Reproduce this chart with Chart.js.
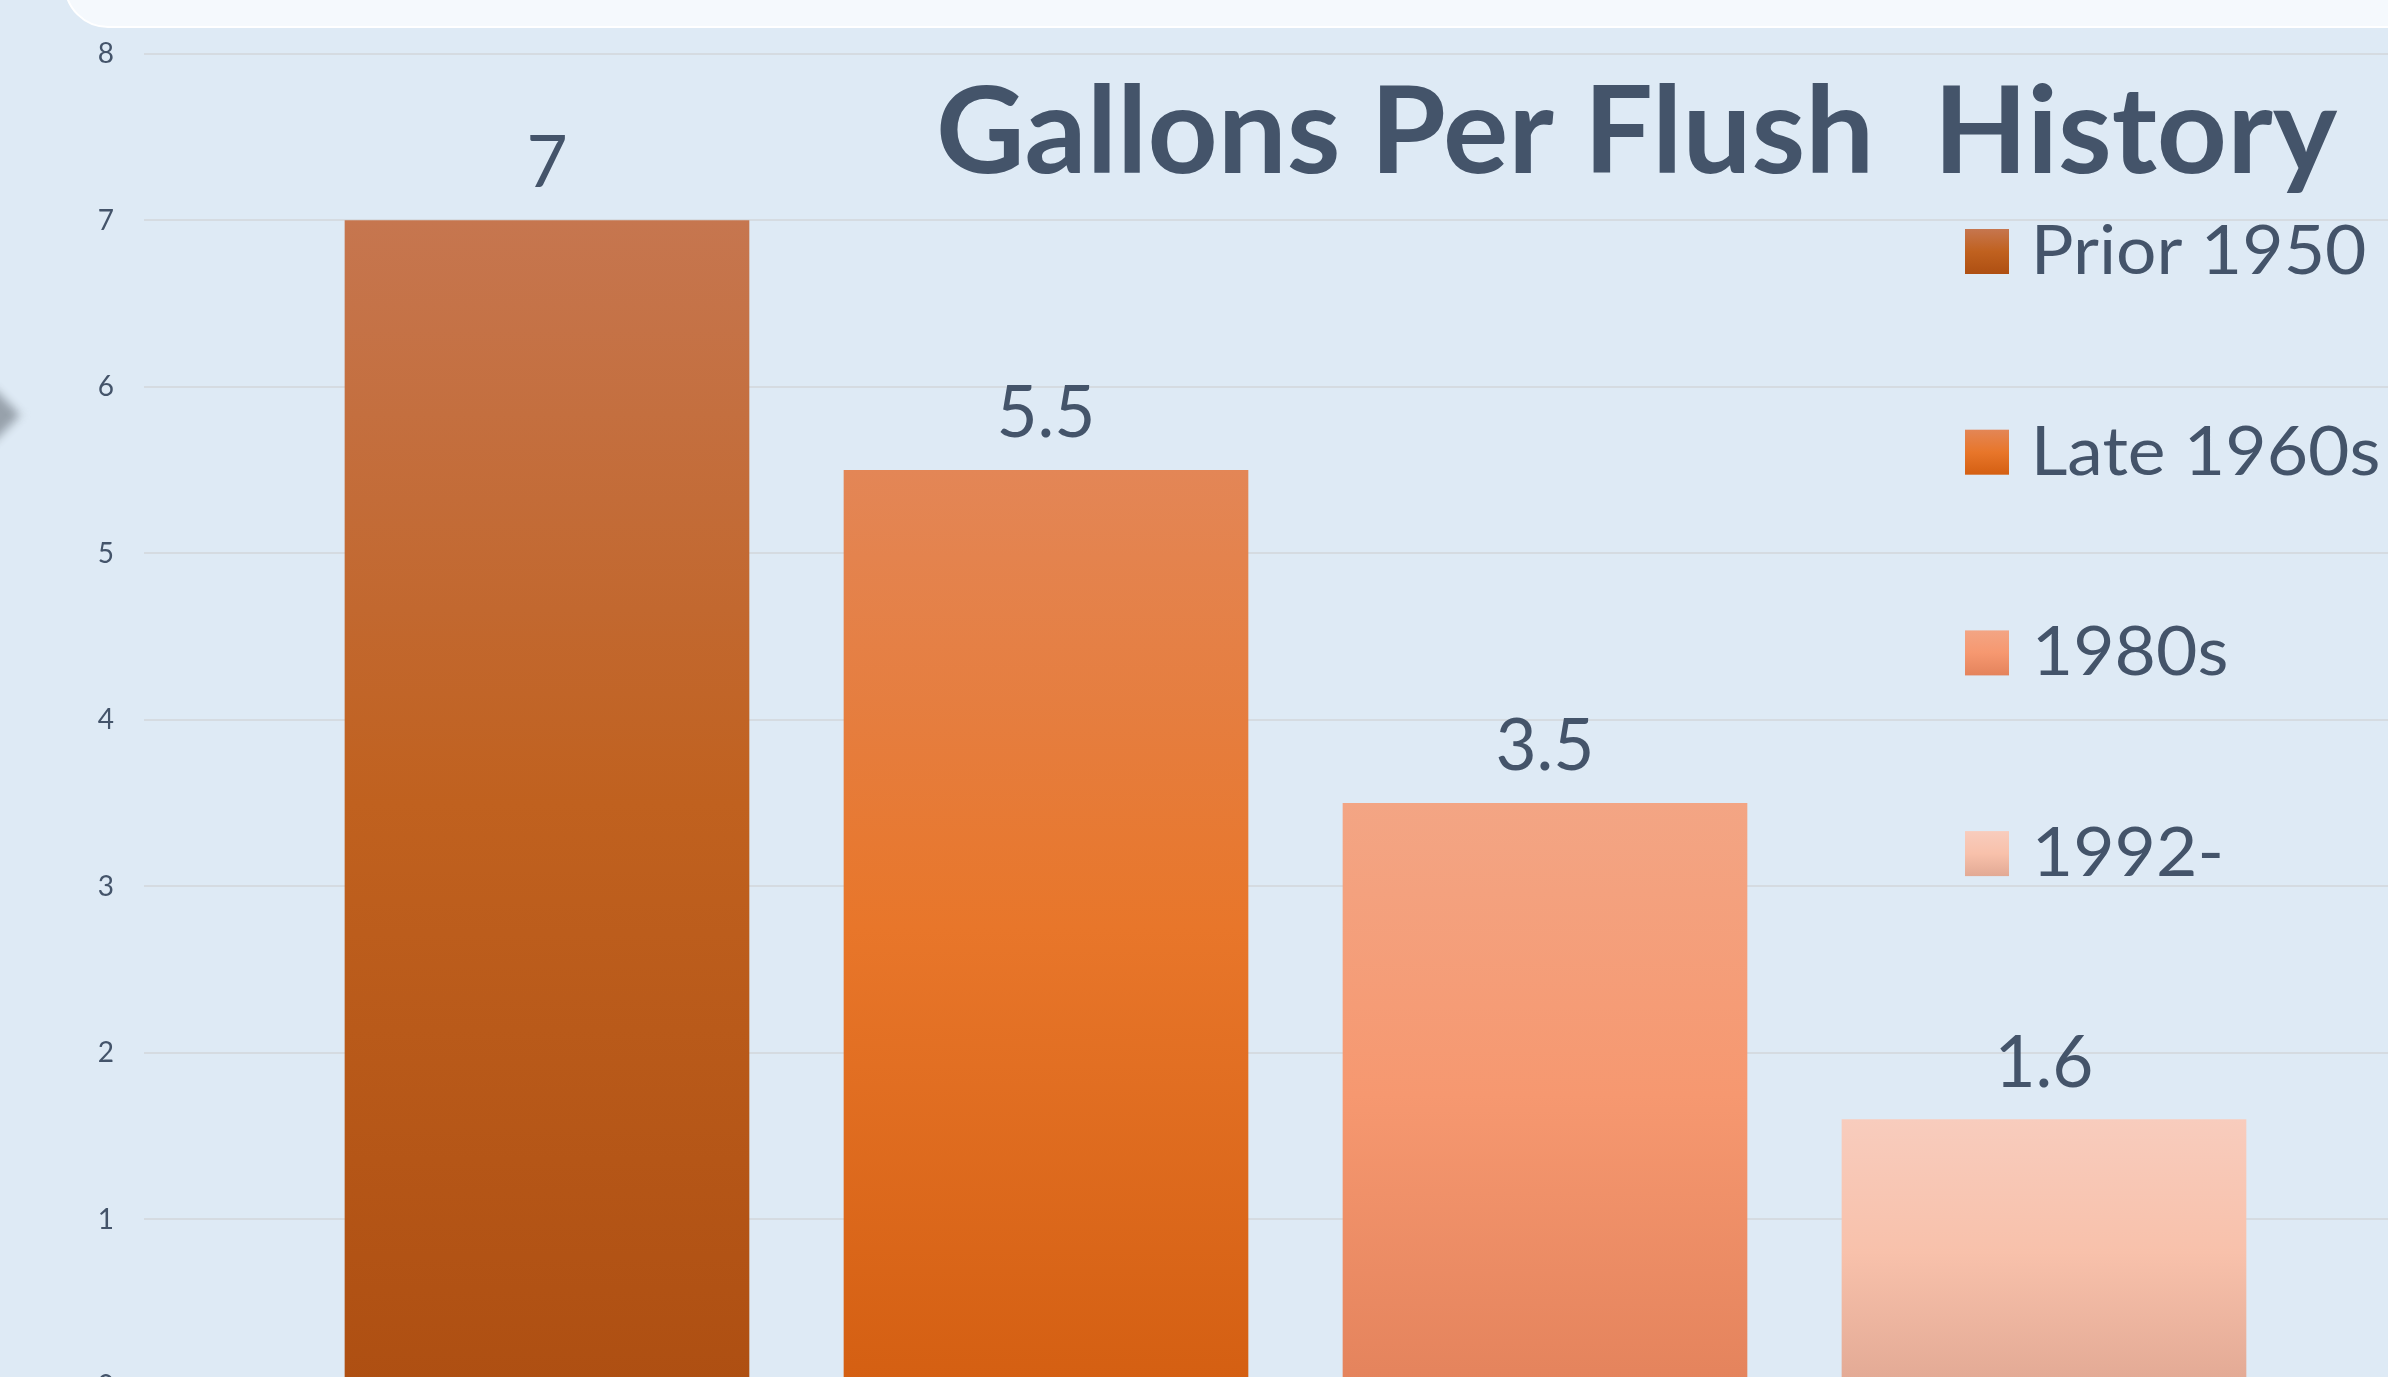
<!DOCTYPE html>
<html>
<head>
<meta charset="utf-8">
<script src="https://cdn.jsdelivr.net/npm/chart.js@4.4.1/dist/chart.umd.min.js"></script>
<style>
  html, body { margin: 0; padding: 0; width: 2388px; height: 1377px; overflow: hidden; background: #DEEAF5; }
  #wrap { position: relative; width: 2388px; height: 1377px; overflow: hidden; }
  #c { position: absolute; left: 0; top: 0; }
  #topbox { position: absolute; left: 64px; top: -60px; width: 2420px; height: 88px; background: #F5F9FD;
            border: 2px solid #FFFFFF; border-radius: 60px; box-sizing: border-box; }
  #arrow { position: absolute; left: -28px; top: 395px; width: 40px; height: 40px; background: #97A1AB;
           transform: rotate(45deg); filter: blur(5px); }
</style>
</head>
<body>
<div id="wrap">
  <canvas id="c" width="2388" height="1377"></canvas>
  <div id="topbox"></div>
  <div id="arrow"></div>
</div>
<script>
// ---------- data ----------
const chartTitle = 'Gallons Per Flush  History';
const categories = ['Prior 1950', 'Late 1960s', '1980s', '1992-'];
const gallonsPerFlush = [7, 5.5, 3.5, 1.6];
const yTickValues = [0, 1, 2, 3, 4, 5, 6, 7, 8];

// ---------- styles ----------
const TEXT = '#44546A';
const palettes = [
  ['#C6764F', '#C0611F', '#AE4F12'],
  ['#E38656', '#E8762A', '#D45F12'],
  ['#F3A584', '#F69870', '#E4835C'],
  ['#F8CCBD', '#F8C1AB', '#E2A994']
];

function barGradient(i) {
  return function (ctx) {
    const chart = ctx.chart;
    const area = chart.chartArea;
    if (!area || !chart.scales.y) return palettes[i][1];
    const ys = chart.scales.y;
    const top = ys.getPixelForValue(gallonsPerFlush[i]);
    const bottom = ys.getPixelForValue(0);
    const g = chart.ctx.createLinearGradient(0, top, 0, bottom);
    g.addColorStop(0, palettes[i][0]);
    g.addColorStop(0.5, palettes[i][1]);
    g.addColorStop(1, palettes[i][2]);
    return g;
  };
}

const overlayPlugin = {
  id: 'overlay',
  afterDatasetsDraw(chart) {
    const ctx = chart.ctx;
    ctx.save();
    // value labels above bars
    ctx.fillStyle = TEXT;
    ctx.font = '71px Lato';
    ctx.textAlign = 'center';
    ctx.textBaseline = 'alphabetic';
    chart.data.datasets.forEach((ds, i) => {
      const meta = chart.getDatasetMeta(i);
      meta.data.forEach((bar) => {
        ctx.fillText(String(gallonsPerFlush[i]), bar.x, bar.y - 33);
      });
    });
    ctx.restore();
  },
  afterDraw(chart) {
    const ctx = chart.ctx;
    ctx.save();
    // title
    ctx.fillStyle = TEXT;
    ctx.font = 'bold 120px Lato';
    ctx.textAlign = 'left';
    ctx.textBaseline = 'alphabetic';
    const m = ctx.measureText(chartTitle);
    const inkW = m.actualBoundingBoxLeft + m.actualBoundingBoxRight;
    const sx = 1398 / inkW;
    ctx.translate(940 + m.actualBoundingBoxLeft * sx, 173);
    ctx.scale(sx, 1);
    ctx.fillText(chartTitle, 0, 0);
    ctx.restore();

    // legend
    ctx.save();
    ctx.font = '68px Lato';
    ctx.textAlign = 'left';
    ctx.textBaseline = 'alphabetic';
    const lm = ctx.measureText(categories[0]);
    const lsx = 328 / (lm.actualBoundingBoxLeft + lm.actualBoundingBoxRight);
    categories.forEach((name, i) => {
      const top = 229 + i * 200.7;
      const g = ctx.createLinearGradient(0, top, 0, top + 45);
      g.addColorStop(0, palettes[i][0]);
      g.addColorStop(0.5, palettes[i][1]);
      g.addColorStop(1, palettes[i][2]);
      ctx.fillStyle = g;
      ctx.fillRect(1965, top, 44, 45);
      ctx.fillStyle = TEXT;
      const mi = ctx.measureText(name);
      ctx.save();
      ctx.translate(2037 + mi.actualBoundingBoxLeft * lsx, top + 45);
      ctx.scale(lsx, 1);
      ctx.fillText(name, 0, 0);
      ctx.restore();
    });
    ctx.restore();
  }
};

function makeChart() {
  const datasets = categories.map((name, i) => ({
    label: name,
    data: [{ x: i, y: gallonsPerFlush[i] }],
    backgroundColor: barGradient(i),
    borderWidth: 0,
    barThickness: 404,
    grouped: false
  }));

  new Chart(document.getElementById('c'), {
    type: 'bar',
    data: { datasets },
    options: {
      responsive: false,
      devicePixelRatio: 1,
      animation: false,
      layout: { padding: { top: 54, bottom: 0, left: 0, right: 0 } },
      plugins: { legend: { display: false }, title: { display: false }, tooltip: { enabled: false } },
      scales: {
        x: { type: 'linear', min: -0.8076, max: 3.6894, offset: false, display: false },
        y: {
          min: 0.054, max: 8,
          afterBuildTicks: (s) => { s.ticks = yTickValues.map(v => ({ value: v })); },
          afterFit: (s) => { s.width = 144; s.paddingTop = 0; s.paddingBottom = 0; },
          ticks: { color: TEXT, font: { family: 'Lato', size: 28 }, padding: 30 },
          grid: { color: '#D5DBE1', lineWidth: 2, drawTicks: false },
          border: { display: false }
        }
      }
    },
    plugins: [overlayPlugin]
  });
}

const fontsReady = document.fonts
  ? Promise.all([document.fonts.load('bold 120px Lato'), document.fonts.load('68px Lato')]).catch(() => {})
  : Promise.resolve();
Promise.race([fontsReady, new Promise(r => setTimeout(r, 1500))]).then(makeChart);
</script>
</body>
</html>
